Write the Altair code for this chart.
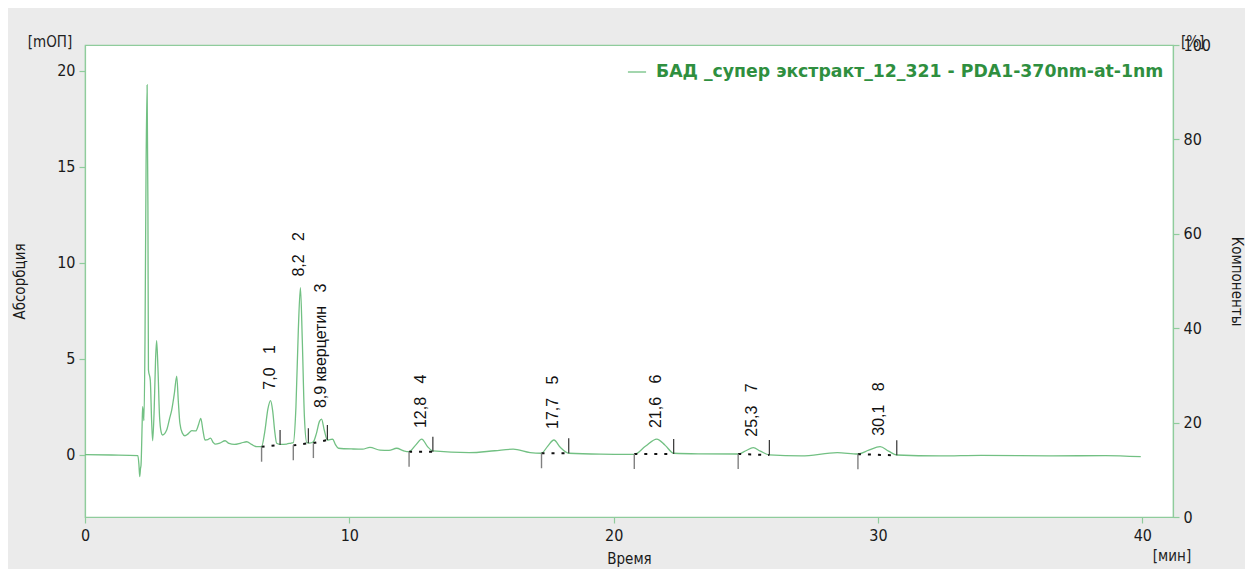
import altair as alt
import pandas as pd

# ---- chromatogram trace (time in min, absorbance in mAU) ----
time_min = [0.0, 1.0, 2.0, 2.04, 2.07, 2.10, 2.12, 2.16, 2.18, 2.21, 2.23, 2.27, 2.31, 2.35, 2.38,
            2.40, 2.47, 2.52, 2.56, 2.62, 2.67, 2.71, 2.76, 2.82, 2.88, 2.93, 3.09, 3.20, 3.28,
            3.38, 3.47, 3.53, 3.59, 3.68, 3.78, 3.90, 4.04, 4.19, 4.30, 4.38, 4.46, 4.54, 4.65,
            4.75, 4.85, 4.92, 5.10, 5.30, 5.45, 5.65, 5.90, 6.12, 6.30, 6.50, 6.68, 6.80, 6.92,
            7.02, 7.10, 7.18, 7.25, 7.40, 7.63, 7.80, 7.88, 7.98, 8.07, 8.15, 8.22, 8.30, 8.39,
            8.50, 8.64, 8.75, 8.87, 8.95, 9.05, 9.17, 9.27, 9.37, 9.47, 9.59, 10.15, 10.50,
            10.78, 11.16, 11.50, 11.79, 12.05, 12.26, 12.50, 12.74, 12.95, 13.16, 14.54, 15.50,
            16.20, 16.84, 17.27, 17.50, 17.74, 17.98, 18.30, 19.50, 20.78, 21.20, 21.63, 21.95,
            22.27, 23.20, 24.71, 25.00, 25.28, 25.55, 25.89, 27.10, 28.46, 29.24, 29.65, 30.08,
            30.40, 30.71, 32.35, 33.90, 36.60, 38.60, 39.94]
absorb = [0.02, 0.0, -0.03, -0.5, -1.13, -0.7, -0.52, 1.5, 2.52, 2.1, 1.79, 6.0, 15.0, 19.27, 13.0,
          4.43, 3.9, 1.8, 0.74, 2.5, 5.0, 5.95, 4.5, 2.0, 1.2, 1.04, 1.3, 1.9, 2.34,
          3.2, 4.11, 2.8, 1.65, 1.15, 1.0, 1.1, 1.27, 1.25, 1.6, 1.91, 1.3, 0.78, 0.80,
          0.88, 0.65, 0.57, 0.62, 0.74, 0.6, 0.55, 0.62, 0.69, 0.55, 0.43, 0.43, 1.2, 2.4,
          2.83, 2.3, 1.2, 0.61, 0.55, 0.57, 0.62, 0.64, 2.5, 6.5, 8.72, 6.0, 2.0, 0.64,
          0.62, 0.69, 1.1, 1.75, 1.87, 1.3, 0.78, 0.8, 0.82, 0.55, 0.35, 0.31, 0.30,
          0.40, 0.25, 0.24, 0.35, 0.22, 0.17, 0.5, 0.83, 0.45, 0.21, 0.12, 0.22,
          0.30, 0.12, 0.09, 0.45, 0.78, 0.4, 0.09, 0.04, 0.03, 0.45, 0.83, 0.5,
          0.09, 0.06, 0.05, 0.22, 0.38, 0.2, 0.0, -0.05, 0.12, 0.05, 0.25, 0.43,
          0.2, 0.0, -0.05, -0.02, -0.05, -0.03, -0.09]

series_name = "БАД _супер экстракт_12_321 - PDA1-370nm-at-1nm"

# ---- integrated peaks ----
NB = "\u00a0\u00a0\u00a0"
peak_labels = ["7,0" + NB + "1", "8,2" + NB + "2", "8,9 кверцетин" + NB + "3", "12,8" + NB + "4",
               "17,7" + NB + "5", "21,6" + NB + "6", "25,3" + NB + "7", "30,1" + NB + "8"]
peak_rt = [7.02, 8.15, 8.95, 12.74, 17.74, 21.63, 25.28, 30.08]
peak_top = [2.83, 8.72, 1.87, 0.83, 0.78, 0.83, 0.38, 0.43]
peak_start_t = [6.68, 7.88, 8.64, 12.26, 17.27, 20.78, 24.71, 29.24]
peak_start_v = [0.43, 0.50, 0.62, 0.17, 0.09, 0.05, 0.05, 0.04]
peak_end_t = [7.38, 8.45, 9.17, 13.16, 18.30, 22.27, 25.89, 30.71]
peak_end_v = [0.52, 0.61, 0.78, 0.17, 0.09, 0.05, 0.00, -0.02]

x_ticks = [0, 10, 20, 30, 40]
y_ticks = [0, 5, 10, 15, 20]
pct_ticks = [0, 20, 40, 60, 80, 100]

GREEN_AX = "#8fcc9c"
TRACE = "#72c083"
LEGEND_GREEN = "#2f8f3f"
FONT = "DejaVu Sans Condensed"

trace_df = pd.DataFrame({"t": time_min, "v": absorb, "series": series_name})
peaks_df = pd.DataFrame({
    "label": peak_labels, "rt": peak_rt, "top": peak_top,
    "ts": peak_start_t, "vs": peak_start_v, "te": peak_end_t, "ve": peak_end_v,
})
pct_df = pd.DataFrame({"t": [0, 0], "pct": [0, 100]})
one = pd.DataFrame({"a": [0]})

xs = alt.Scale(domain=[0, 41.16], nice=False, zero=False)
ys = alt.Scale(domain=[-3.23, 21.35], nice=False, zero=False)

x_axis = alt.Axis(values=x_ticks, title="Время", format="d", labelFlush=False, grid=False,
                  tickSize=6, labelPadding=4, titlePadding=8)
y_axis = alt.Axis(values=y_ticks, title="Абсорбция", format="d", labelFlush=False, grid=False,
                  tickSize=6, labelPadding=4, titlePadding=29)

trace = alt.Chart(trace_df).mark_line(strokeWidth=1.3, interpolate="monotone").encode(
    x=alt.X("t:Q", scale=xs, axis=x_axis),
    y=alt.Y("v:Q", scale=ys, axis=y_axis),
    color=alt.Color("series:N", scale=alt.Scale(range=[TRACE]), legend=alt.Legend(
        title=None, orient="none", legendX=542, legendY=17, symbolType="stroke",
        symbolSize=330, symbolStrokeWidth=1.3, labelFont="DejaVu Sans", labelFontSize=17.3,
        labelFontWeight="bold", labelColor=LEGEND_GREEN, labelLimit=900, labelOffset=9)),
)

start_ticks = alt.Chart(peaks_df).mark_rule(color="#808080", strokeWidth=1.4, y2Offset=15).encode(
    x=alt.X("ts:Q", scale=xs, axis=x_axis),
    y=alt.Y("vs:Q", scale=ys, axis=y_axis),
    y2="vs:Q",
)
end_ticks = alt.Chart(peaks_df).mark_rule(color="#333333", strokeWidth=1.2, y2Offset=-15).encode(
    x=alt.X("te:Q", scale=xs, axis=x_axis),
    y=alt.Y("ve:Q", scale=ys, axis=y_axis),
    y2="ve:Q",
)
baselines = alt.Chart(peaks_df).mark_rule(color="#111111", strokeWidth=2, strokeDash=[3, 7]).encode(
    x=alt.X("ts:Q", scale=xs, axis=x_axis),
    x2="te:Q",
    y=alt.Y("vs:Q", scale=ys, axis=y_axis),
    y2="ve:Q",
)
labels = alt.Chart(peaks_df).mark_text(
    angle=270, align="left", baseline="middle", dx=11, dy=-1,
    font="Liberation Sans", fontSize=16, color="#111111").encode(
    x=alt.X("rt:Q", scale=xs, axis=x_axis),
    y=alt.Y("top:Q", scale=ys, axis=y_axis),
    text="label:N",
)

unit_y = alt.Chart(one).mark_text(text="[mОП]", font=FONT, fontSize=15, color="#222222",
                                  align="center", baseline="middle").encode(
    x=alt.value(-35), y=alt.value(-3))
unit_x = alt.Chart(one).mark_text(text="[мин]", font=FONT, fontSize=15, color="#222222",
                                  align="center", baseline="middle").encode(
    x=alt.value(1087), y=alt.value(511))
unit_pct = alt.Chart(one).mark_text(text="[%]", font=FONT, fontSize=15, color="#222222",
                                    align="left", baseline="middle").encode(
    x=alt.value(1096), y=alt.value(-3))

inner = alt.layer(trace, baselines, start_ticks, end_ticks, labels, unit_y, unit_x, unit_pct)

pct_layer = alt.Chart(pct_df).mark_point(opacity=0).encode(
    x=alt.X("t:Q", scale=xs, axis=x_axis),
    y=alt.Y("pct:Q", scale=alt.Scale(domain=[0, 100], nice=False), axis=alt.Axis(
        orient="right", values=pct_ticks, title="Компоненты", titleAngle=90, format="d",
        labelFlush=False, grid=False, tickSize=6, labelPadding=4, titlePadding=18)),
)

chart = alt.layer(inner, pct_layer).resolve_scale(y="independent").properties(
    width=1088, height=472, autosize="none",
    padding={"left": 77, "top": 37, "right": 72, "bottom": 52},
    background="#ebebeb",
).configure_view(
    fill="white", stroke=GREEN_AX, strokeWidth=1.2,
).configure_axis(
    domainColor=GREEN_AX, tickColor=GREEN_AX, domainWidth=1.2, tickWidth=1.2,
    labelFont=FONT, labelFontSize=16, labelColor="#1a1a1a",
    titleFont=FONT, titleFontSize=15, titleFontWeight="normal", titleColor="#1a1a1a",
)

chart.save("out.html", embed_options={"renderer": "svg", "actions": False})
